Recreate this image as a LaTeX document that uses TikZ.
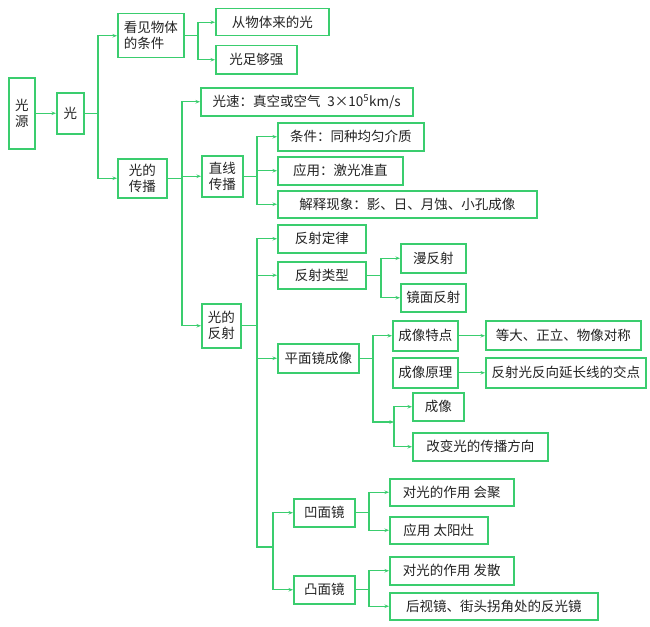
\documentclass[tikz,border=0pt]{standalone}
\usepackage{fontspec}
\setmainfont{Noto Sans CJK SC}
\usetikzlibrary{arrows.meta}
\definecolor{lgreen}{RGB}{58,205,110}
\definecolor{txt}{RGB}{35,35,35}
\tikzset{
  bx/.style={draw=lgreen, line width=1.5pt, inner sep=0pt, anchor=north west,
    text=txt, align=center, font=\fontsize{13.5pt}{16pt}\selectfont},
  ln/.style={draw=lgreen, line width=1.4pt},
  arr/.style={ln, -{Stealth[length=4.5pt,width=3.5pt]}}
}
\newcommand{\bxn}[6]{\node[bx, minimum width=#4pt, minimum height=#5pt] (#1) at (#2,#3) {#6};}
\begin{document}
\begin{tikzpicture}[x=1pt,y=-1pt]
\useasboundingbox[fill=white] (0,0) rectangle (650,626);
\bxn{gy}{8}{77}{26}{71}{光\\源}
\bxn{g}{56}{92}{27}{41}{光}
\node[bx, minimum width=66pt, minimum height=44pt, align=left] (kj) at (117,13) {看见物体\\的条件};
\bxn{cb}{117}{158}{49}{39}{光的\\传播}
\bxn{cw}{215}{8}{113}{27}{从物体来的光}
\bxn{zq}{215}{45}{81}{28}{光足够强}
\bxn{gs}{200}{87}{212}{28}{光速：真空或空气\enspace 3×10\textsuperscript{5}km/s}
\bxn{zx}{201}{155}{41}{41}{直线\\传播}
\bxn{fs}{201}{303}{39}{44}{光的\\反射}
\bxn{tj}{277}{122}{146}{28}{条件：同种均匀介质}
\bxn{yy}{277}{156}{125}{28}{应用：激光准直}
\bxn{js}{277}{190}{259}{27}{解释现象：影、日、月蚀、小孔成像}
\bxn{fd}{277}{224}{88}{28}{反射定律}
\bxn{fl}{277}{261}{88}{27}{反射类型}
\bxn{mf}{400}{243}{65}{29}{漫反射}
\bxn{jm}{400}{283}{65}{28}{镜面反射}
\bxn{pm}{277}{343}{81}{29}{平面镜成像}
\bxn{td}{392}{320}{65}{30}{成像特点}
\bxn{dd}{485}{320}{155}{29}{等大、正立、物像对称}
\bxn{yl}{392}{357}{65}{30}{成像原理}
\bxn{fg}{485}{357}{160}{30}{反射光反向延长线的交点}
\bxn{cx}{412}{392}{51}{28}{成像}
\bxn{gb}{412}{432}{135}{28}{改变光的传播方向}
\bxn{am}{293}{498}{61}{28}{凹面镜}
\bxn{tm}{293}{575}{61}{28}{凸面镜}
\bxn{hj}{389}{478}{124}{27}{对光的作用\ 会聚}
\bxn{ty}{389}{516}{98}{27}{应用\ 太阳灶}
\bxn{fsan}{389}{556}{124}{28}{对光的作用\ 发散}
\bxn{hs}{389}{592}{208}{27}{后视镜、街头拐角处的反光镜}
% branch coordinates
\coordinate (b1) at (98,0);
\coordinate (b2) at (198,0);
\coordinate (b3) at (182,0);
\coordinate (b4) at (257,0);
\coordinate (b6) at (381,0);
\coordinate (b7) at (373,0);
\coordinate (b9) at (369,0);
\coordinate (j1) at (257,547);
\coordinate (j2) at (273,547);
\coordinate (k1) at (373,422);
\coordinate (k2) at (394,422);
% connectors
\draw[arr] (gy.east |- g.west) -- (g.west);
\draw[arr] (g.east) -- (g.east -| b1) |- (kj.west);
\draw[arr] (g.east) -- (g.east -| b1) |- (cb.west);
\draw[arr] (kj.east) -- (kj.east -| b2) |- (cw.west);
\draw[arr] (kj.east) -- (kj.east -| b2) |- (zq.west);
\draw[arr] (cb.east) -- (cb.east -| b3) |- (gs.west);
\draw[arr] (cb.east) -- (cb.east -| b3) |- (zx.west);
\draw[arr] (cb.east) -- (cb.east -| b3) |- (fs.west);
\draw[arr] (zx.east) -- (zx.east -| b4) |- (tj.west);
\draw[arr] (zx.east) -- (zx.east -| b4) |- (yy.west);
\draw[arr] (zx.east) -- (zx.east -| b4) |- (js.west);
\draw[arr] (fs.east) -- (fs.east -| b4) |- (fd.west);
\draw[arr] (fs.east) -- (fs.east -| b4) |- (fl.west);
\draw[arr] (fs.east) -- (fs.east -| b4) |- (pm.west);
\draw[ln] (fs.east -| b4) -- (j1) -- (j2);
\draw[arr] (j2) |- (am.west);
\draw[arr] (j2) |- (tm.west);
\draw[arr] (fl.east) -- (fl.east -| b6) |- (mf.west);
\draw[arr] (fl.east) -- (fl.east -| b6) |- (jm.west);
\draw[arr] (pm.east) -- (pm.east -| b7) |- (td.west);
\draw[arr] (pm.east -| b7) -- (k1) -- (k2);
\draw[arr] (k2) |- (cx.west);
\draw[arr] (k2) |- (gb.west);
\draw[arr] (td.east) -- (dd.west |- td.east);
\draw[arr] (yl.east) -- (fg.west |- yl.east);
\draw[arr] (am.east) -- (am.east -| b9) |- (hj.west);
\draw[arr] (am.east) -- (am.east -| b9) |- (ty.west);
\draw[arr] (tm.east) -- (tm.east -| b9) |- (fsan.west);
\draw[arr] (tm.east) -- (tm.east -| b9) |- (hs.west);
\end{tikzpicture}
\end{document}
